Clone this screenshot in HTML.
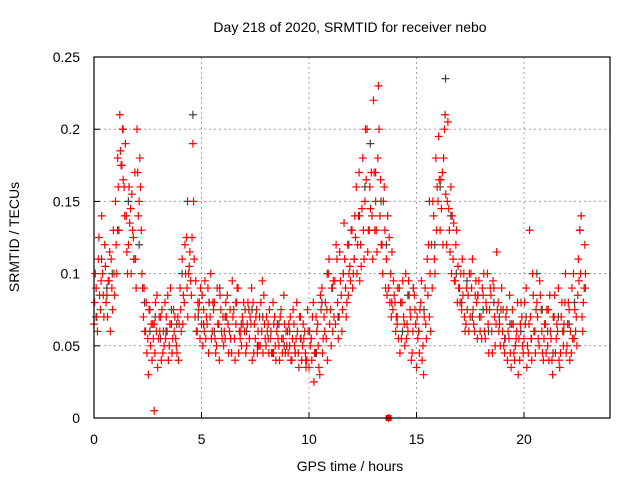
<!DOCTYPE html>
<html><head><meta charset="utf-8"><style>
body{margin:0;background:#fff}
svg{display:block;font-family:"Liberation Sans",sans-serif}
</style></head><body>
<svg id="chart" width="640" height="480"></svg>
<script>
const xTicks=[0,5,10,15,20];
const yTicks=[0,0.05,0.1,0.15,0.2,0.25];
const yTickLabels=["0","0.05","0.1","0.15","0.2","0.25"];
// red series: values (thousandths of TECU) every 0.1 h from 0.0 to 22.9
const red1=[65,90,110,75,100,120,85,95,110,130,150,180,210,175,160,140,120,145,130,170,200,150,130,70,60,55,75,40,65,60,55,70,45,80,60,50,65,75,55,70,90,110,80,125,100,95,190,70,60,80,65,75,55,90,70,60,80,50,65,75,70,55,85,60,45,75,65,90,55,70,60,50,75,65,80,55,45,70,60,85,50,65,55,45,70,60,50,75,55,45,60,50,40,65,55,45,70,50,60,40,35,55,80,45,65,30,90,70,55,100,75,60,95,110,70,85,100,90,120,105,130,110,160,140,120,180,150,200,130,170,220,150,180,140,120,160,110,90,100,75,80,65,90,55,70,100,60,75,45,85,35,60,80,50,90,110,70,120,140,180,150,130,170,200,120,145,160,110,95,80,90,75,100,65,85,70,110,60,80,95,70,85,55,100,75,60,90,65,80,50,60,45,75,55,35,65,50,80,40,70,55,90,45,70,100,60,80,50,75,40,65,50,85,40,70,55,90,45,60,80,50,75,45,100,60,85,130,70,90];
const red2=[80,70,125,95,85,105,70,115,90,100,120,160,185,200,140,115,160,100,125,110,170,180,100,90,80,30,50,65,45,85,70,40,60,55,85,65,45,60,50,40,75,65,120,90,105,85,150,95,80,55,85,60,70,45,100,80,55,90,40,60,50,80,65,75,95,55,80,45,60,65,75,65,55,90,45,70,60,50,95,65,70,45,60,80,50,65,40,55,85,60,45,70,55,50,80,35,55,65,45,75,60,40,25,70,50,85,45,60,75,110,50,95,65,80,115,60,135,70,85,95,90,140,100,170,105,130,200,115,160,140,170,130,230,165,100,130,85,125,70,95,60,90,45,80,65,55,95,70,60,75,70,45,95,30,65,85,100,90,110,130,195,165,120,210,150,130,100,135,120,105,80,110,70,90,60,100,75,85,55,70,55,100,80,65,90,45,70,115,60,75,75,55,40,85,65,45,55,30,65,50,80,35,65,55,85,45,70,95,60,55,45,75,60,30,85,65,40,70,50,100,65,40,90,55,70,110,100,60,120];
const red3=[100,60,85,140,70,80,95,60,75,85,100,130,175,165,190,100,135,155,110,90,140,160,90,60,45,75,65,55,80,35,60,75,50,70,40,90,55,70,45,65,60,85,100,70,115,125,110,60,75,90,50,95,65,80,55,75,45,65,85,55,60,70,45,55,70,40,90,60,50,80,45,80,70,40,65,75,50,80,45,55,60,75,45,65,40,55,70,45,65,50,65,40,75,45,60,70,40,55,35,60,50,70,45,60,35,75,55,80,40,65,90,70,120,55,95,75,110,80,100,130,100,125,120,95,145,110,165,130,145,110,130,115,200,120,150,90,140,80,115,85,70,55,80,95,50,65,85,40,90,65,55,75,40,70,55,120,60,150,100,160,165,145,180,155,205,115,140,95,130,90,100,85,60,75,100,90,65,95,85,60,90,60,75,45,85,95,50,75,65,90,50,70,60,45,75,40,60,55,80,45,65,50,130,40,60,75,55,85,45,65,75,40,55,70,45,60,35,80,65,45,80,60,55,75,50,95,140,80,100];
// grey series: values every 0.25 h
const grey=[70,110,90,100,130,200,150,110,120,80,60,70,55,60,75,65,100,150,210,70,65,80,60,90,70,55,80,65,60,75,50,70,55,45,65,50,60,45,55,40,55,45,80,100,90,70,100,120,110,140,160,190,170,150,120,80,70,60,85,90,60,75,150,120,160,235,140,100,80,95,70,85,75,60,80,70,55,65,50,60,70,55,100,75,60,45,70,60,65,80,130,90];
const outliers=[[2.8,5],[13.7,0]];

const L=94,R=610,T=57,B=418,XMAX=24,YMAX=0.25;
const sx=h=>L+(R-L)*h/XMAX, sy=v=>B-(B-T)*v/YMAX;
const NS="http://www.w3.org/2000/svg", svg=document.getElementById('chart');
function mk(t,a){const e=document.createElementNS(NS,t);for(const k in a)e.setAttribute(k,a[k]);svg.appendChild(e);return e;}

const title=mk('text',{x:350,y:32,'text-anchor':'middle','font-size':14,fill:'#000'});


title.textContent='Day 218 of 2020, SRMTID for receiver nebo';

yTicks.forEach((v,i)=>{
  const y=sy(v);
  if(i>0){const g=mk('line',{x1:L,x2:R,y1:y,y2:y,stroke:'#a0a0a0','stroke-dasharray':'2,3'});
  
  }
  const tk=mk('line',{x1:L,x2:L+6,y1:y,y2:y,stroke:'#000'});
  
  
  const t=mk('text',{x:80,y:y+5,'text-anchor':'end','font-size':14,fill:'#000'});
  
  
  t.textContent=yTickLabels[i];
});
xTicks.forEach(h=>{
  const x=sx(h);
  if(h>0){const g=mk('line',{x1:x,x2:x,y1:T,y2:B,stroke:'#a0a0a0','stroke-dasharray':'2,3'});
  
  }
  const tk=mk('line',{x1:x,x2:x,y1:B,y2:B-6,stroke:'#000'});
  
  
  const t=mk('text',{x:x,y:444,'text-anchor':'middle','font-size':14,fill:'#000'});
  
  
  t.textContent=String(h);
});

function cross(h,v,col,name){
  const x=sx(h),y=sy(v/1000);
  const p=mk('path',{d:`M${x-4},${y}h8M${x},${y-4}v8`,stroke:col,'stroke-width':1.2,fill:'none'});
  
  
}
grey.forEach((v,i)=>cross(i*0.25+0.1,v,'#404040','grey-point'));
[red1,red2,red3].forEach((arr,k)=>arr.forEach((v,i)=>cross(i*0.1+0.03*k,v,'#ff0000','red-point')));
outliers.forEach(([h,v])=>cross(h,v,'#ff0000','red-point'));
const sq=mk('rect',{x:sx(13.7)-3,y:B-3,width:6,height:6,fill:'#ff0000'});



const fr=mk('rect',{x:L,y:T,width:R-L,height:B-T,fill:'none',stroke:'#000','stroke-width':1.2});



const xl=mk('text',{x:350,y:471,'text-anchor':'middle','font-size':14,fill:'#000'});


xl.textContent='GPS time / hours';
const yl=mk('text',{x:0,y:0,'text-anchor':'middle','font-size':14,fill:'#000',transform:'translate(19,237) rotate(-90)'});


yl.textContent='SRMTID / TECUs';
</script>
</body></html>
